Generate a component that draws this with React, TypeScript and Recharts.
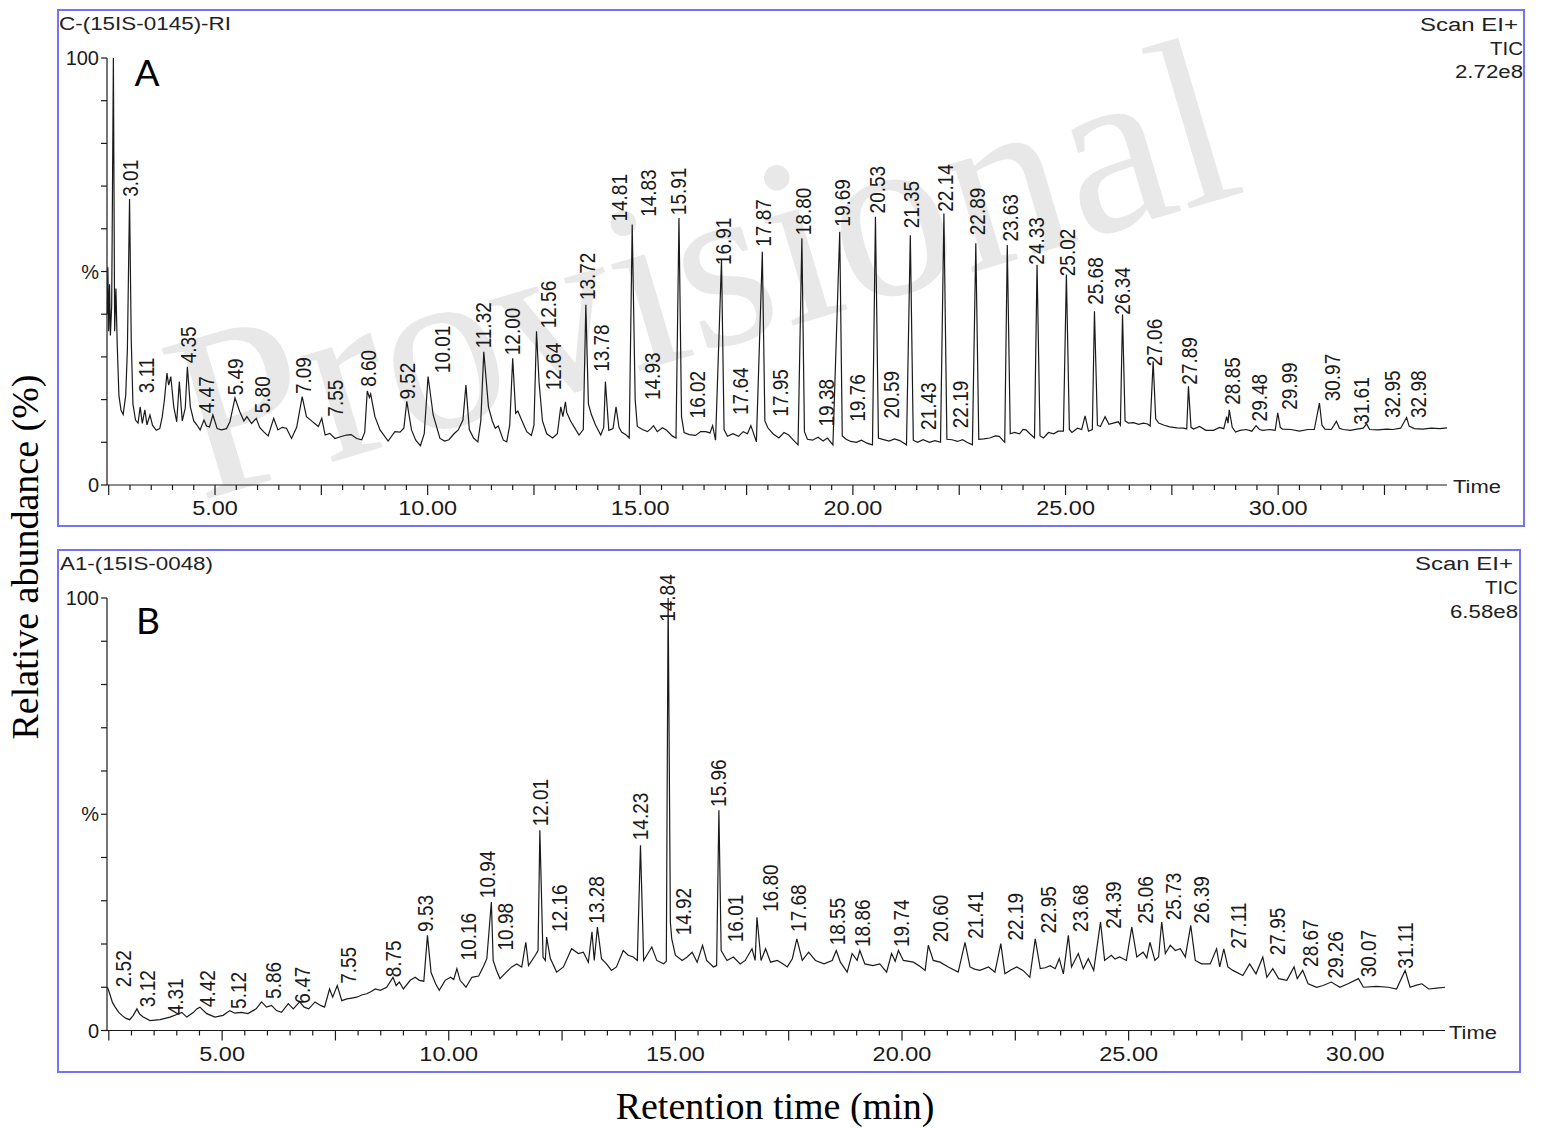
import React from "react";
import { ComposedChart, Line, Scatter, XAxis, YAxis } from "recharts";

// [retention time (min), relative abundance (%)]
type Pt = [number, number];
// [label text, time where the label sits, abundance at the label's foot]
type PeakLabel = [string, number, number];

// ---- Chromatogram A : C-(15IS-0145)-RI ----
const traceA: Pt[] = [
  [2.47, 40], [2.48, 51], [2.5, 36], [2.52, 47], [2.54, 35], [2.57, 42], [2.61, 100], [2.64, 36],
  [2.67, 46], [2.7, 33], [2.74, 21], [2.79, 17.5], [2.84, 16.5], [2.9, 21], [2.94, 32], [2.99, 67],
  [3.03, 34], [3.07, 19], [3.13, 15.2], [3.19, 14.5], [3.24, 18.3], [3.29, 14.4], [3.35, 17.6],
  [3.4, 14.1], [3.47, 16.4], [3.53, 14], [3.62, 12.8], [3.7, 13.2], [3.76, 16], [3.81, 19.9],
  [3.87, 26.2], [3.91, 23.4], [3.96, 25.4], [4.03, 18.3], [4.1, 14.8], [4.16, 24.2], [4.23, 15],
  [4.3, 18], [4.35, 27.7], [4.42, 18.3], [4.5, 15], [4.57, 14.1], [4.65, 12.9], [4.74, 15.2],
  [4.8, 13.8], [4.87, 13.6], [4.95, 16.4], [5.05, 13.2], [5.15, 12.9], [5.27, 13.2], [5.35, 14.8],
  [5.47, 20.4], [5.58, 17.2], [5.68, 15], [5.75, 16], [5.86, 14.4], [5.97, 15.6], [6.05, 13.5],
  [6.14, 12.5], [6.25, 11.5], [6.38, 15.6], [6.48, 12.9], [6.58, 13.5], [6.68, 13.3], [6.8, 10.9],
  [6.92, 13.5], [7.05, 20.7], [7.15, 16], [7.25, 15.2], [7.33, 14.5], [7.43, 13.7], [7.51, 15.6],
  [7.59, 11.7], [7.7, 12.1], [7.82, 10.9], [7.95, 11.3], [8.09, 11.7], [8.2, 11.8], [8.33, 10.9],
  [8.45, 10.6], [8.52, 12.3], [8.58, 22], [8.63, 20.5], [8.66, 21.3], [8.76, 16], [8.88, 12.9],
  [9.07, 10.3], [9.23, 12.5], [9.35, 12.4], [9.44, 13.3], [9.51, 19.6], [9.62, 12.9], [9.72, 10.5],
  [9.83, 9.2], [9.92, 12], [10.01, 25.4], [10.13, 16.4], [10.29, 10.9], [10.4, 10.3], [10.5, 10.6],
  [10.62, 12], [10.72, 12.9], [10.83, 15.2], [10.9, 23.4], [10.98, 13], [11.08, 11], [11.18, 10.1],
  [11.25, 15], [11.32, 31.2], [11.43, 18.3], [11.52, 15], [11.59, 13.3], [11.66, 13.8], [11.78, 10.5],
  [11.86, 10.1], [11.93, 14], [12.0, 29.7], [12.07, 16.8], [12.12, 17.3], [12.21, 15.2], [12.33, 12.5],
  [12.44, 11.6], [12.5, 14], [12.56, 36], [12.62, 24], [12.7, 15], [12.8, 12], [12.94, 11], [13.05, 12],
  [13.13, 18.3], [13.18, 16], [13.24, 19.5], [13.27, 17], [13.36, 15], [13.45, 13.5], [13.56, 11.7],
  [13.66, 13], [13.72, 42.2], [13.78, 19], [13.85, 16.5], [13.95, 14], [14.07, 11.7], [14.14, 13.5],
  [14.18, 24.2], [14.26, 12.8], [14.36, 13.2], [14.43, 18.3], [14.5, 13.5], [14.56, 12.4], [14.66, 11.8],
  [14.74, 11], [14.81, 61], [14.88, 20], [14.93, 13.7], [15.05, 13], [15.17, 12.5], [15.25, 13.2],
  [15.31, 13.9], [15.4, 12.5], [15.52, 13.4], [15.62, 12.8], [15.75, 11.5], [15.84, 11], [15.91, 62.5],
  [15.97, 16], [16.03, 12.3], [16.15, 11.8], [16.3, 11.6], [16.42, 12.5], [16.54, 12.5], [16.64, 12.2],
  [16.7, 13.9], [16.77, 10.5], [16.91, 52.7], [16.97, 13], [17.05, 11.4], [17.18, 12], [17.31, 11.4],
  [17.42, 12.5], [17.52, 12], [17.6, 13.9], [17.66, 12.2], [17.73, 10.1], [17.87, 54.6], [17.93, 15],
  [18.0, 13.4], [18.12, 12], [18.26, 11], [18.38, 12.3], [18.49, 11.7], [18.6, 10.5], [18.71, 9.4],
  [18.8, 57.8], [18.86, 12.5], [18.93, 10.7], [19.05, 10.5], [19.18, 11.2], [19.3, 10.3], [19.4, 11],
  [19.53, 9.4], [19.69, 59.3], [19.75, 11.5], [19.84, 10.7], [19.95, 10.2], [20.08, 10], [20.2, 10.5],
  [20.33, 9.8], [20.46, 9.4], [20.53, 62.8], [20.6, 11], [20.7, 10.7], [20.85, 10.3], [20.98, 10.8],
  [21.1, 10.4], [21.26, 9.4], [21.35, 58.5], [21.42, 10.5], [21.52, 10], [21.65, 10.6], [21.8, 10],
  [21.93, 10.4], [22.06, 10], [22.14, 63.6], [22.21, 10.7], [22.33, 10.6], [22.46, 10.2], [22.58, 10.6],
  [22.68, 10], [22.81, 9.4], [22.89, 56.6], [22.96, 10.7], [23.08, 10.8], [23.22, 11], [23.35, 11.5],
  [23.44, 11.4], [23.57, 10], [23.63, 56.2], [23.7, 12], [23.8, 12.3], [23.92, 12], [24.0, 13],
  [24.07, 12.9], [24.16, 12], [24.27, 11], [24.33, 51.6], [24.4, 11.5], [24.48, 11], [24.6, 12.3],
  [24.72, 12], [24.83, 12.6], [24.95, 12.6], [25.02, 49.3], [25.09, 13], [25.15, 12.3], [25.28, 13.3],
  [25.38, 13], [25.46, 16.2], [25.54, 12.6], [25.63, 13], [25.68, 40.7], [25.75, 14], [25.82, 13.7],
  [25.93, 16], [26.02, 14.2], [26.12, 14.5], [26.24, 14.8], [26.29, 14], [26.34, 39.9], [26.4, 15],
  [26.48, 14.5], [26.6, 14.6], [26.72, 14.2], [26.83, 14.5], [26.93, 14.3], [26.99, 13.8], [27.06, 29],
  [27.12, 15.5], [27.19, 14.5], [27.32, 14], [27.45, 13.6], [27.62, 13.4], [27.78, 13.3], [27.85, 13.1],
  [27.89, 23.1], [27.95, 13.5], [28.01, 13.1], [28.15, 13.7], [28.3, 12.8], [28.48, 12.8], [28.62, 13.5],
  [28.72, 13.2], [28.79, 16], [28.82, 14.5], [28.85, 17.6], [28.92, 13.5], [29.0, 12.4], [29.1, 12.8],
  [29.25, 13], [29.38, 12.6], [29.48, 13.9], [29.56, 13], [29.64, 12.8], [29.8, 13], [29.93, 12.8],
  [29.99, 16.9], [30.05, 13.5], [30.1, 13.1], [30.3, 13], [30.5, 12.6], [30.7, 13], [30.85, 13],
  [30.97, 19.2], [31.03, 14], [31.1, 13.1], [31.25, 13], [31.37, 14.9], [31.44, 13.3], [31.53, 13],
  [31.7, 12.8], [31.85, 13.1], [32.0, 13.3], [32.08, 14.3], [32.15, 13], [32.35, 12.9], [32.55, 13.1],
  [32.7, 13], [32.88, 13.3], [33.02, 15.8], [33.08, 13.8], [33.2, 13.2], [33.4, 13.1], [33.6, 13.3],
  [33.8, 13.2], [33.97, 13.4],
];

const labelsA: PeakLabel[] = [
  ["3.01", 3.0, 67.5], ["3.11", 3.39, 21.5], ["4.35", 4.37, 28.5], ["4.47", 4.8, 16.8],
  ["5.49", 5.47, 21], ["5.80", 6.1, 16.8], ["7.09", 7.08, 21.3], ["7.55", 7.82, 16],
  ["8.60", 8.6, 23], ["9.52", 9.51, 20], ["10.01", 10.33, 26.2], ["11.32", 11.31, 32],
  ["12.00", 11.98, 30.4], ["12.56", 12.84, 36.7], ["12.64", 12.96, 22.2], ["13.72", 13.74, 43.3],
  ["13.78", 14.09, 26.5], ["14.81", 14.51, 61.7], ["14.83", 15.19, 62.8], ["14.93", 15.27, 19.9],
  ["15.91", 15.89, 63.2], ["16.02", 16.33, 15.6], ["16.91", 16.94, 51.5], ["17.64", 17.34, 16.4],
  ["17.87", 17.88, 55.8], ["17.95", 18.29, 16], ["18.80", 18.83, 58.5], ["19.38", 19.38, 13.7],
  ["19.69", 19.74, 60.5], ["19.76", 20.09, 14.8], ["20.53", 20.56, 63.6], ["20.59", 20.91, 15.6],
  ["21.35", 21.38, 60.1], ["21.43", 21.77, 12.9], ["22.14", 22.16, 64], ["22.19", 22.52, 13.3],
  ["22.89", 22.91, 58.5], ["23.63", 23.69, 57], ["24.33", 24.32, 51.6], ["25.02", 25.03, 48.9],
  ["25.68", 25.69, 42.2], ["26.34", 26.34, 39.9], ["27.06", 27.08, 27.8], ["27.89", 27.91, 23.5],
  ["28.85", 28.91, 18.8], ["29.48", 29.56, 14.9], ["29.99", 30.26, 17.6], ["30.97", 31.26, 19.6],
  ["31.61", 31.96, 14.1], ["32.95", 32.67, 15.7], ["32.98", 33.29, 15.7],
];

// ---- Chromatogram B : A1-(15IS-0048) ----
const traceB: Pt[] = [
  [2.47, 10], [2.52, 8.5], [2.58, 6.5], [2.64, 5.4], [2.72, 4.2], [2.79, 3.5], [2.88, 2.8], [2.96, 2.5],
  [3.04, 3.5], [3.12, 5], [3.18, 3.8], [3.25, 3.2], [3.41, 2.3], [3.63, 2.5], [3.85, 3.1], [4.0, 3.7],
  [4.11, 4.2], [4.22, 3.1], [4.37, 4.2], [4.44, 5], [4.51, 5.4], [4.66, 3.9], [4.84, 3.1], [5.02, 3.5],
  [5.17, 4.6], [5.28, 4], [5.42, 4.2], [5.57, 3.9], [5.75, 5], [5.87, 6.6], [5.98, 5.4], [6.09, 5.8],
  [6.2, 4.6], [6.31, 4.2], [6.46, 6.2], [6.57, 5], [6.71, 6.6], [6.81, 5.4], [6.91, 5], [7.05, 6.6],
  [7.17, 5.8], [7.26, 5.4], [7.37, 9.6], [7.44, 7.7], [7.54, 10.4], [7.64, 6.9], [7.75, 7.3], [7.86, 7.5],
  [7.97, 7.7], [8.08, 8.2], [8.19, 8.5], [8.29, 9], [8.38, 9.6], [8.49, 9.3], [8.63, 10], [8.77, 12.3],
  [8.84, 10.4], [8.91, 11.2], [9.0, 9.6], [9.15, 11.6], [9.26, 12.3], [9.35, 11.6], [9.45, 11.4],
  [9.53, 22], [9.61, 13.4], [9.71, 10.8], [9.79, 9.3], [9.92, 11.6], [10.04, 12.3], [10.11, 11.8],
  [10.18, 14.3], [10.25, 11.6], [10.38, 10], [10.51, 12.3], [10.66, 12.6], [10.77, 14.9], [10.84, 16.6],
  [10.94, 29.7], [10.98, 16.2], [11.05, 14], [11.13, 12], [11.27, 13.5], [11.39, 14.7], [11.5, 15.4],
  [11.61, 14.7], [11.7, 20.4], [11.76, 15], [11.91, 17.4], [11.97, 18.5], [12.01, 46.3], [12.08, 17],
  [12.13, 16.2], [12.16, 21.6], [12.24, 16.7], [12.38, 13.5], [12.53, 14.7], [12.71, 18.9], [12.86, 17.8],
  [12.97, 18.1], [13.08, 15.8], [13.16, 22.8], [13.21, 16.2], [13.28, 23.9], [13.37, 16.6], [13.48, 15.4],
  [13.59, 13.9], [13.7, 14.7], [13.85, 18.5], [13.96, 17.4], [14.07, 17], [14.16, 16.2], [14.23, 42.8],
  [14.3, 16.2], [14.37, 17.4], [14.48, 19.3], [14.59, 16.2], [14.74, 15.4], [14.8, 16], [14.84, 100],
  [14.89, 25], [14.92, 21.2], [15.0, 17.4], [15.15, 16.2], [15.26, 17], [15.37, 18.1], [15.48, 15.8],
  [15.6, 19.7], [15.69, 16.2], [15.84, 14.7], [15.91, 15], [15.96, 50.9], [16.01, 18.5], [16.14, 16.2],
  [16.28, 17], [16.43, 15.4], [16.54, 16.2], [16.69, 18.9], [16.76, 16.2], [16.8, 26.2], [16.89, 16.2],
  [16.99, 18.9], [17.1, 15.8], [17.25, 16.2], [17.36, 15.5], [17.47, 14.7], [17.58, 16.6], [17.68, 21.2],
  [17.8, 16.2], [17.94, 18.1], [18.09, 16.2], [18.28, 15.4], [18.46, 16.2], [18.55, 18.5], [18.64, 15.8],
  [18.79, 13.5], [18.9, 17.8], [19.01, 16.2], [19.07, 18.5], [19.18, 15.4], [19.36, 15], [19.51, 15.4],
  [19.66, 13.5], [19.77, 17.8], [19.85, 16], [19.92, 18.5], [20.03, 16.2], [20.25, 15.8], [20.4, 14.8],
  [20.51, 13.9], [20.58, 19.7], [20.69, 16.2], [20.84, 15.8], [21.02, 14.7], [21.24, 13.5], [21.39, 20.4],
  [21.5, 14.7], [21.6, 14.2], [21.72, 13.9], [21.91, 14.7], [22.05, 13.5], [22.18, 20.1], [22.27, 13.1],
  [22.4, 14], [22.53, 14.7], [22.67, 13.9], [22.82, 12.3], [22.94, 21.2], [23.05, 14.3], [23.16, 14.5],
  [23.27, 15], [23.38, 14.3], [23.47, 16.6], [23.56, 13.1], [23.67, 22], [23.74, 14.7], [23.89, 17.8],
  [24.0, 14.3], [24.11, 16.6], [24.23, 13.9], [24.38, 25.1], [24.47, 16.2], [24.62, 17.4], [24.7, 16.5],
  [24.8, 17], [24.95, 16.2], [25.07, 23.9], [25.18, 17], [25.32, 18.1], [25.4, 16.8], [25.47, 20.4],
  [25.58, 16.2], [25.66, 17], [25.73, 25.1], [25.81, 17.8], [25.92, 19.7], [26.03, 18.5], [26.14, 18.9],
  [26.25, 17], [26.37, 24.3], [26.47, 16.2], [26.61, 15.4], [26.8, 15.4], [26.94, 18.9], [27.01, 14.7],
  [27.1, 18.9], [27.19, 14.7], [27.3, 13.9], [27.52, 12.7], [27.67, 15.4], [27.81, 13.1], [27.96, 17],
  [28.05, 12.3], [28.18, 14.3], [28.31, 12], [28.49, 11.6], [28.65, 14.7], [28.72, 12], [28.84, 13.9],
  [28.96, 10.8], [29.15, 10], [29.29, 10.4], [29.47, 11.2], [29.66, 10], [29.84, 10.8], [30.07, 12],
  [30.18, 10], [30.47, 10.2], [30.73, 10], [30.91, 9.6], [31.1, 13.9], [31.21, 10], [31.35, 10.5],
  [31.47, 10.8], [31.62, 9.6], [31.8, 9.8], [31.98, 10],
];

const labelsB: PeakLabel[] = [
  ["2.52", 2.82, 10], ["3.12", 3.34, 5.4], ["4.31", 3.96, 3.5], ["4.42", 4.66, 5.4],
  ["5.12", 5.36, 5], ["5.86", 6.13, 7.3], ["6.47", 6.76, 6.2], ["7.55", 7.79, 10.8],
  ["8.75", 8.78, 12.3], ["9.53", 9.48, 22.8], ["10.16", 10.43, 16.2], ["10.94", 10.84, 30.6],
  ["10.98", 11.24, 18.5], ["12.01", 12.02, 47.2], ["12.16", 12.44, 22.8], ["13.28", 13.25, 24.7],
  ["14.23", 14.22, 44], ["14.84", 14.81, 94.5], ["14.92", 15.18, 22], ["15.96", 15.95, 51.7],
  ["16.01", 16.32, 20.4], ["16.80", 17.09, 27.4], ["17.68", 17.71, 22.8], ["18.55", 18.56, 19.7],
  ["18.86", 19.11, 19.3], ["19.74", 19.99, 19.3], ["20.60", 20.84, 20.4], ["21.41", 21.61, 21.2],
  ["22.19", 22.49, 20.8], ["22.95", 23.23, 22.4], ["23.68", 23.93, 22.8], ["24.39", 24.66, 23.5],
  ["25.06", 25.36, 24.7], ["25.73", 25.99, 25.5], ["26.39", 26.61, 24.7], ["27.11", 27.42, 18.9],
  ["27.95", 28.27, 17.4], ["28.67", 29.0, 14.7], ["29.26", 29.55, 12], ["30.07", 30.29, 12.3],
  ["31.11", 31.1, 14.3],
];

const yTicks = [0, 10, 20, 30, 40, 50, 60, 70, 80, 90, 100];
const yTickText: Record<number, string> = { 0: "0", 50: "%", 100: "100" };
const timeLabels = [5, 10, 15, 20, 25, 30];

const SANS = "'Liberation Sans', Arial, sans-serif";
const SERIF = "'Liberation Serif', 'Times New Roman', serif";
const INK = "#1a1a1a";
const FRAME = "#7474f0";

// minor ticks every half minute, like the instrument's software
function halfMinuteTicks(lo: number, hi: number) {
  const out: number[] = [];
  for (let t = Math.ceil(lo * 2) / 2; t <= hi + 1e-9; t += 0.5) out.push(t);
  return out;
}

const isMultiple = (t: number, step: number) => Math.abs(t / step - Math.round(t / step)) < 1e-6;

function XTick(props: any) {
  const { x, y, payload } = props;
  const t = payload.value as number;
  const long = isMultiple(t, 2.5);
  return (
    <g>
      <line x1={x} x2={x} y1={y} y2={y + (long ? 10 : 5)} stroke={INK} strokeWidth={1.2} />
      {timeLabels.includes(t) && (
        <text
          transform={`translate(${x} ${y + 30}) scale(1.12 1)`}
          textAnchor="middle"
          fontSize={21}
          fontFamily={SANS}
          fill={INK}
        >
          {t.toFixed(2)}
        </text>
      )}
    </g>
  );
}

function YTick(props: any) {
  const { x, y, payload } = props;
  const text = yTickText[payload.value as number];
  return (
    <g>
      <line x1={x - 6} x2={x} y1={y} y2={y} stroke={INK} strokeWidth={1.2} />
      {text && (
        <text x={x - 8} y={y} dy="0.36em" textAnchor="end" fontSize={20} fontFamily={SANS} fill={INK}>
          {text}
        </text>
      )}
    </g>
  );
}

// vertical retention-time label, reading bottom to top
function PeakText(p: any) {
  const text = p.payload?.text ?? p.text;
  if (p.cx == null || p.cy == null) return null;
  return (
    <text
      transform={`translate(${p.cx} ${p.cy}) scale(1.15 1) rotate(-90)`}
      textAnchor="start"
      dy="0.36em"
      fontSize={19}
      fontFamily={SANS}
      fill={INK}
    >
      {text}
    </text>
  );
}

function Chromatogram({
  trace,
  labels,
  domain,
  top,
  margin,
}: {
  trace: Pt[];
  labels: PeakLabel[];
  domain: [number, number];
  top: number;
  margin: { top: number; right: number; bottom: number; left: number };
}) {
  const data = trace.map(([t, v]) => ({ t, v }));
  const peaks = labels.map(([text, t, v]) => ({ t, v, text }));
  return (
    <div style={{ position: "absolute", left: 0, top }}>
      <ComposedChart width={1542} height={560} data={data} margin={margin}>
        <XAxis
          type="number"
          dataKey="t"
          domain={domain}
          ticks={halfMinuteTicks(domain[0], domain[1])}
          interval={0}
          tick={<XTick />}
          tickLine={false}
          tickSize={0}
          tickMargin={0}
          height={30}
          axisLine={{ stroke: INK, strokeWidth: 1.2 }}
        />
        <YAxis
          type="number"
          dataKey="v"
          domain={[0, 100]}
          ticks={yTicks}
          interval={0}
          tick={<YTick />}
          tickLine={false}
          tickSize={0}
          tickMargin={0}
          width={50}
          axisLine={{ stroke: INK, strokeWidth: 1.2 }}
        />
        <Line
          type="linear"
          dataKey="v"
          stroke={INK}
          strokeWidth={1.2}
          dot={false}
          activeDot={false}
          isAnimationActive={false}
        />
        <Scatter data={peaks} dataKey="v" shape={PeakText} isAnimationActive={false} />
      </ComposedChart>
    </div>
  );
}

export default function App() {
  const hdr = { fontFamily: SANS, fontSize: 18, fill: "#222" };
  return (
    <div style={{ position: "absolute", left: 0, top: 0, width: 1542, height: 1128, background: "#fff" }}>
      <svg width={1542} height={1128} style={{ position: "absolute", left: 0, top: 0 }}>
        {/* watermark */}
        <text
          x={724}
          y={346}
          textAnchor="middle"
          fontFamily={SERIF}
          fontSize={240}
          fill="#e8e8e8"
          transform="rotate(-16.5 724 346)"
        >
          Provisional
        </text>

        {/* panel frames */}
        <rect x={58} y={10} width={1466} height={516} fill="none" stroke={FRAME} strokeWidth={2} />
        <rect x={58} y={550} width={1462} height={522} fill="none" stroke={FRAME} strokeWidth={2} />

        {/* panel A headers */}
        <text x={59} y={30} textLength={172} lengthAdjust="spacingAndGlyphs" {...hdr}>
          C-(15IS-0145)-RI
        </text>
        <text x={1518} y={31} textAnchor="end" textLength={98} lengthAdjust="spacingAndGlyphs" {...hdr}>
          Scan  EI+
        </text>
        <text x={1523} y={55} textAnchor="end" textLength={33} lengthAdjust="spacingAndGlyphs" {...hdr}>
          TIC
        </text>
        <text x={1523} y={78} textAnchor="end" textLength={68} lengthAdjust="spacingAndGlyphs" {...hdr}>
          2.72e8
        </text>
        <text x={147} y={86} textAnchor="middle" fontFamily="Lato, 'Open Sans', sans-serif" fontSize={37} fill="#000">
          A
        </text>
        <text x={1453} y={493} textLength={48} lengthAdjust="spacingAndGlyphs" {...hdr}>
          Time
        </text>

        {/* panel B headers */}
        <text x={60} y={570} textLength={153} lengthAdjust="spacingAndGlyphs" {...hdr}>
          A1-(15IS-0048)
        </text>
        <text x={1513} y={570} textAnchor="end" textLength={98} lengthAdjust="spacingAndGlyphs" {...hdr}>
          Scan  EI+
        </text>
        <text x={1518} y={594} textAnchor="end" textLength={33} lengthAdjust="spacingAndGlyphs" {...hdr}>
          TIC
        </text>
        <text x={1518} y={618} textAnchor="end" textLength={68} lengthAdjust="spacingAndGlyphs" {...hdr}>
          6.58e8
        </text>
        <text x={148} y={634} textAnchor="middle" fontFamily="Lato, 'Open Sans', sans-serif" fontSize={37} fill="#000">
          B
        </text>
        <text x={1449} y={1039} textLength={48} lengthAdjust="spacingAndGlyphs" {...hdr}>
          Time
        </text>

        {/* shared axis titles */}
        <text
          transform="translate(38 557) rotate(-90)"
          textAnchor="middle"
          fontFamily={SERIF}
          fontSize={38}
          fill="#000"
        >
          Relative abundance (%)
        </text>
        <text x={775} y={1119} textAnchor="middle" fontFamily={SERIF} fontSize={38} fill="#000">
          Retention time (min)
        </text>
      </svg>

      <Chromatogram
        trace={traceA}
        labels={labelsA}
        domain={[2.46, 33.97]}
        top={0}
        margin={{ top: 58, right: 95, bottom: 45, left: 57 }}
      />
      <Chromatogram
        trace={traceB}
        labels={labelsB}
        domain={[2.46, 31.98]}
        top={540}
        margin={{ top: 58, right: 97, bottom: 39.5, left: 57 }}
      />
    </div>
  );
}
